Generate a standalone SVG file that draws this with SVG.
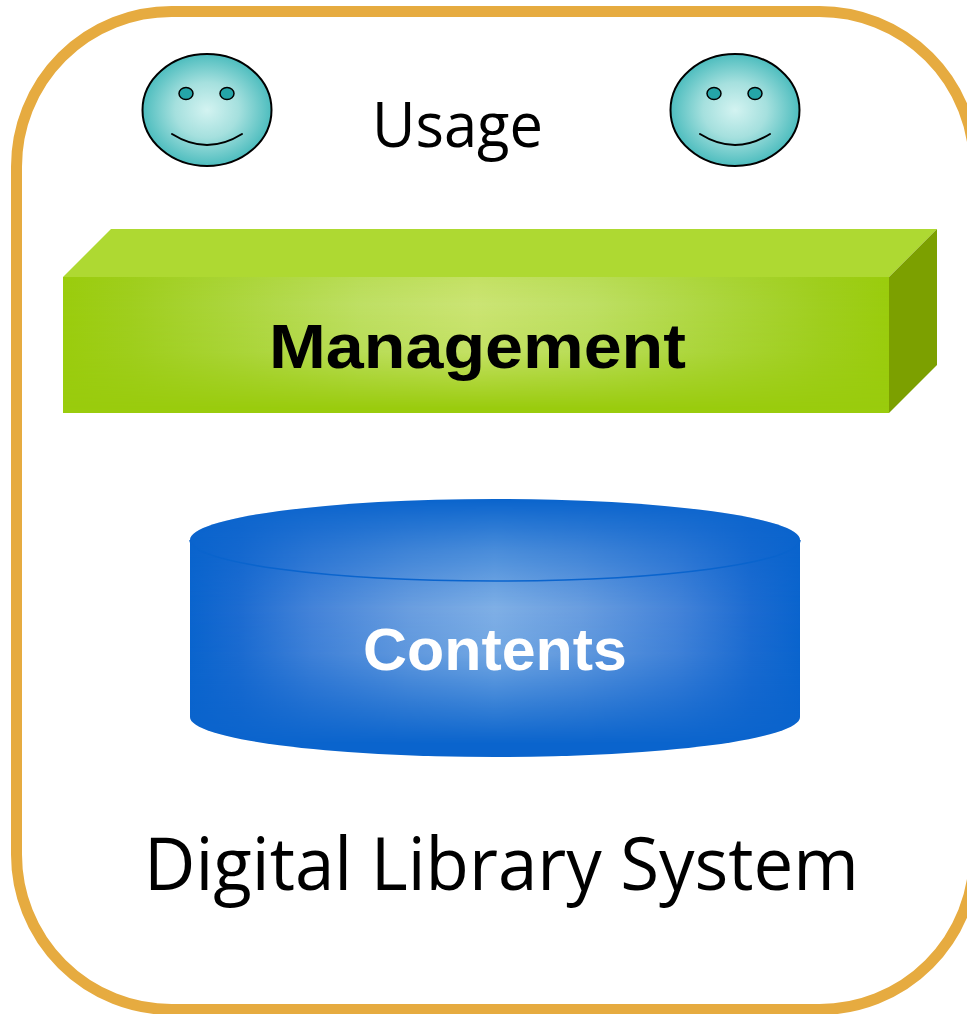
<svg xmlns="http://www.w3.org/2000/svg" width="967" height="1014" viewBox="0 0 967 1014">
<style>
.t{font-family:"Open Sans","Liberation Sans",sans-serif;fill:#000}
.b{font-family:"Liberation Sans",Arial,sans-serif;font-weight:700}
.line{stroke:#000;stroke-width:2}
.eye{fill:#25a5a8;stroke:#000;stroke-width:1.500}
.face{fill:url(#fg)}
.smile{fill:none;stroke:#000;stroke-width:2;stroke-linecap:round}
</style>
<defs>
<radialGradient id="fg" cx="0.5" cy="0.5" r="0.55"><stop offset="0" stop-color="#d3f3f1"/><stop offset="0.45" stop-color="#a5e0de"/><stop offset="1" stop-color="#3cb6b8"/></radialGradient>
<linearGradient id="gh" gradientUnits="userSpaceOnUse" x1="63" y1="0" x2="889" y2="0"><stop offset="0" stop-color="#9acc0d"/><stop offset="0.08" stop-color="#9fce1e"/><stop offset="0.2" stop-color="#abd53c"/><stop offset="0.36" stop-color="#bedf64"/><stop offset="0.5" stop-color="#cbe474"/><stop offset="0.64" stop-color="#bedf64"/><stop offset="0.8" stop-color="#abd53c"/><stop offset="0.92" stop-color="#9fce1e"/><stop offset="1" stop-color="#9acc0d"/></linearGradient>
<linearGradient id="gv" gradientUnits="userSpaceOnUse" x1="0" y1="277" x2="0" y2="413"><stop offset="0" stop-color="#fff" stop-opacity="0.85"/><stop offset="0.2" stop-color="#fff"/><stop offset="0.55" stop-color="#fff" stop-opacity="0.85"/><stop offset="0.97" stop-color="#fff" stop-opacity="0"/></linearGradient>
<mask id="gm" maskUnits="userSpaceOnUse" x="63" y="277" width="826" height="136"><rect x="63" y="277" width="826" height="136" fill="url(#gv)"/></mask>
<linearGradient id="bh" gradientUnits="userSpaceOnUse" x1="190" y1="0" x2="800" y2="0"><stop offset="0" stop-color="#0a64cd"/><stop offset="0.08" stop-color="#1c6bd0"/><stop offset="0.2" stop-color="#4483d8"/><stop offset="0.36" stop-color="#6a9edf"/><stop offset="0.5" stop-color="#7fafe5"/><stop offset="0.64" stop-color="#6a9edf"/><stop offset="0.8" stop-color="#4483d8"/><stop offset="0.92" stop-color="#1c6bd0"/><stop offset="1" stop-color="#0a64cd"/></linearGradient>
<linearGradient id="bv" gradientUnits="userSpaceOnUse" x1="0" y1="499" x2="0" y2="757"><stop offset="0" stop-color="#fff" stop-opacity="0"/><stop offset="0.2" stop-color="#fff" stop-opacity="0.55"/><stop offset="0.42" stop-color="#fff"/><stop offset="0.6" stop-color="#fff" stop-opacity="0.9"/><stop offset="0.95" stop-color="#fff" stop-opacity="0"/></linearGradient>
<mask id="bm" maskUnits="userSpaceOnUse" x="190" y="499" width="610" height="258"><rect x="190" y="499" width="610" height="258" fill="url(#bv)"/></mask>
</defs>
<rect width="967" height="1014" fill="#fff"/>
<g id="frame"><rect x="16.500" y="11.500" width="958" height="998" rx="155" ry="155" fill="#fff" stroke="#e6ab40" stroke-width="11"/></g>
<g id="connectors"/>
<g id="user-1">
<ellipse class="face line" cx="207" cy="110" rx="64.500" ry="56"/>
<ellipse class="eye" cx="186" cy="93.500" rx="7" ry="6"/>
<ellipse class="eye" cx="227" cy="93.500" rx="7" ry="6"/>
<path class="smile" d="M172 134Q207 156 242 134"/>
</g>
<g id="user-2">
<ellipse class="face line" cx="735" cy="110" rx="64.500" ry="56"/>
<ellipse class="eye" cx="714" cy="93.500" rx="7" ry="6"/>
<ellipse class="eye" cx="755" cy="93.500" rx="7" ry="6"/>
<path class="smile" d="M700 134Q735 156 770 134"/>
</g>
<g id="usage"><text class="t" x="372" y="147" font-size="63" textLength="171" lengthAdjust="spacingAndGlyphs">Usage</text></g>
<g id="management">
<polygon points="63,277 111,229 937,229 889,277" fill="#aed932"/>
<polygon points="889,277 937,229 937,365 889,413" fill="#7ca000"/>
<rect x="63" y="277" width="826" height="136" fill="#9acc0d"/>
<rect x="63" y="277" width="826" height="136" fill="url(#gh)" mask="url(#gm)"/>
<text class="b" x="269" y="368" font-size="63" fill="#000" textLength="417" lengthAdjust="spacingAndGlyphs">Management</text>
</g>
<g id="contents">
<path d="M190 540A305 41 0 0 1 800 540V717A305 40 0 0 1 190 717Z" fill="#0a64cd"/>
<path d="M190 540A305 41 0 0 1 800 540V717A305 40 0 0 1 190 717Z" fill="url(#bh)" mask="url(#bm)"/>
<path d="M190 540A305 41 0 0 0 800 540" fill="none" stroke="#0a64cd" stroke-width="1.500"/>
<text class="b" x="363" y="670" font-size="59" fill="#fff" textLength="264" lengthAdjust="spacingAndGlyphs">Contents</text>
</g>
<g id="title"><text class="t" x="144" y="890" font-size="73" textLength="715" lengthAdjust="spacingAndGlyphs">Digital Library System</text></g>
</svg>
